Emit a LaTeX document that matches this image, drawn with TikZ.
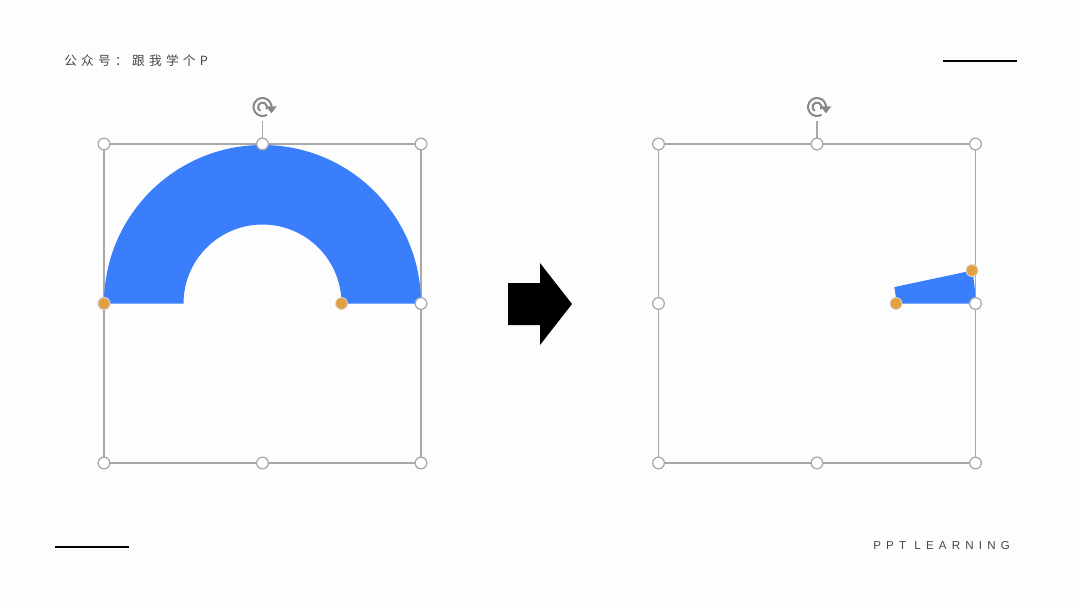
\documentclass[tikz,border=0pt]{standalone}
\usepackage{fontspec}
\setmainfont{Liberation Sans}
\newfontfamily\cjkfont[LetterSpace=34]{Noto Sans CJK SC}
\newfontfamily\widefont[LetterSpace=45]{Liberation Sans}
\usetikzlibrary{arrows.meta, calc}
\definecolor{shapeblue}{RGB}{59,126,252}
\definecolor{adjorange}{RGB}{226,160,64}
\definecolor{framegray}{RGB}{168,168,168}
\definecolor{icongray}{RGB}{135,135,135}
\definecolor{textgray}{RGB}{70,70,70}
\definecolor{pagebg}{RGB}{253,253,254}

\begin{document}
\begin{tikzpicture}[x=0.025cm, y=0.025cm,
    frame/.style={draw=framegray, line width=0.9pt},
    handle/.style={circle, draw=framegray, fill=white, line width=0.9pt, inner sep=0pt, minimum size=8.3pt},
    adjhandle/.style={circle, draw=white!70!gray, fill=adjorange, line width=0.6pt, inner sep=0pt, minimum size=8.5pt},
    rotknob/.style={circle, inner sep=0pt, minimum size=20pt},
    icon/.style={draw=icongray, line width=1.4pt}]
    % Seite
    \fill[pagebg] (0,0) rectangle (1080,-608);
    \useasboundingbox (0,0) rectangle (1080,-608);
    % Kopf- und Fusszeile
    \node[anchor=west, inner sep=0pt] (account) at (64,-61)
        {\cjkfont\fontsize{9}{10}\selectfont\color{textgray}公众号：跟我学个P};
    \node[anchor=west, inner sep=0pt] (brand) at (873,-546)
        {\widefont\fontsize{8.2}{10}\selectfont\color{textgray}PPT LEARNING};
    \draw[line width=1.3pt] (943,-61) -- (1017,-61);
    \draw[line width=1.3pt] (55,-547) -- (129,-547);
    % Rahmen
    \foreach \cx in {262.5, 817} {
        \draw[frame] (\cx-158.5,-144) rectangle (\cx+158.5,-463);
    }
    % Bogen links (0 bis 180 Grad)
    \fill[shapeblue] (104,-303.5) arc (180:0:158.5) -- (341.5,-303.5)
        arc (0:180:79) -- cycle;
    % Bogen rechts (0 bis 12 Grad)
    \fill[shapeblue] (896,-303.5) -- (975.5,-303.5) arc (0:12:158.5)
        -- ($(817,-303.5)+(12:79)$) arc (12:0:79) -- cycle;
    % Anfasser
    \foreach \cx/\nm in {262.5/l, 817/r} {
        \foreach \dx/\dy/\pos in {-1/1/nw, 0/1/n, 1/1/ne, -1/0/w, 1/0/e, -1/-1/sw, 0/-1/s, 1/-1/se}
            \node[handle] (\nm-\pos) at (\cx+\dx*158.5, -303.5+\dy*159.5) {};
        \node[rotknob] (\nm-rot) at (\cx,-107) {};
        \draw[framegray, line width=0.9pt] (\nm-n) -- (\nm-rot);
        % Drehsymbol
        \draw[icon] (\nm-rot.center) ++(-10:9) arc (-10:300:9);
        \draw[icon] (\nm-rot.center) ++(-30:4.5) arc (-30:240:4.5);
        \fill[icongray] ($(\nm-rot.center)+(-8:9)+(-5.5,2)$) -- ++(11,0) -- ++(-5.5,-7) -- cycle;
    }
    \node[adjhandle] (l-adj1) at (104,-303.5) {};
    \node[adjhandle] (l-adj2) at (341.5,-303.5) {};
    \node[adjhandle] (r-adj1) at (896,-303.5) {};
    \node[adjhandle] (r-adj2) at (972,-270.5) {};
    % Pfeil
    \fill[black] (508,-283) -- (540,-283) -- (540,-263) -- (572,-304)
        -- (540,-345) -- (540,-325) -- (508,-325) -- cycle;
\end{tikzpicture}
\end{document}
